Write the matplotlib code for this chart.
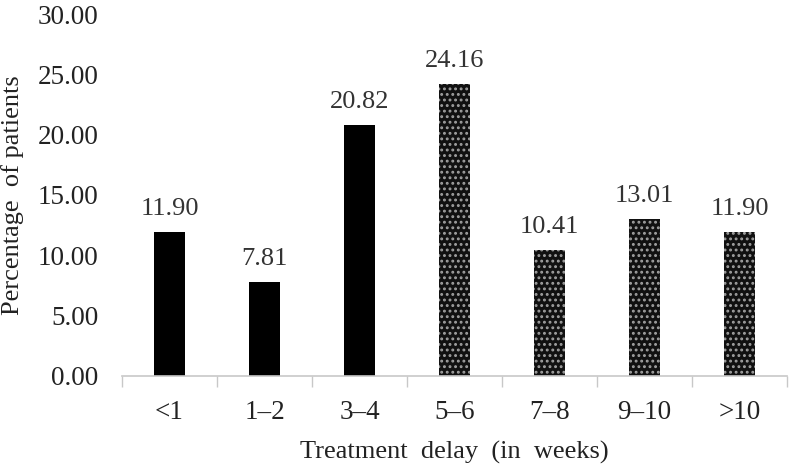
import numpy as np
import matplotlib.pyplot as plt

categories = ["<1", "1\u20132", "3\u20134", "5\u20136", "7\u20138", "9\u201310", ">10"]
values = [11.90, 7.81, 20.82, 24.16, 10.41, 13.01, 11.90]
dotted = [False, False, False, True, True, True, True]
yticks = [0, 5, 10, 15, 20, 25, 30]

plt.rcParams['font.family'] = ['Liberation Serif', 'DejaVu Serif']
plt.rcParams['hatch.linewidth'] = 1.3

fig = plt.figure(figsize=(7.89, 4.67), dpi=100)
ax = fig.add_axes([0.1546, 0.195, 0.843, 0.775])

x = np.arange(len(categories))
for xi, v, d in zip(x, values, dotted):
    if d:
        # dotted bars: dark fill, light dots
        ax.bar(xi, v, width=0.32, color='#111111', edgecolor='#a0a0a0',
               hatch='...', linewidth=0)
    else:
        ax.bar(xi, v, width=0.32, color='black', linewidth=0)
    ax.text(xi, v + 1.0, f"{v:.2f}", ha='center', va='bottom',
            fontsize=19, color='#333333')

ax.set_xlim(-0.5, len(categories) - 0.5)
ax.set_ylim(0, 30)
ax.set_yticks(yticks)
ax.set_yticklabels([f"{t:.2f}" for t in yticks], fontsize=19.5, color='#222222')
ax.set_xticks(x)
ax.set_xticklabels(categories, fontsize=19.5, color='#222222')
ax.set_xticks(np.arange(len(categories) + 1) - 0.5, minor=True)
ax.tick_params(axis='x', which='major', length=0, pad=17)
ax.tick_params(axis='x', which='minor', length=8, color='#c8c8c8', width=1)
ax.tick_params(axis='y', length=0, pad=17)

for s in ['top', 'right', 'left']:
    ax.spines[s].set_visible(False)
ax.spines['bottom'].set_color('#c8c8c8')
ax.spines['bottom'].set_linewidth(1.2)

ax.set_xlabel("Treatment  delay  (in  weeks)", fontsize=19, labelpad=12,
              color='#222222')
ax.set_ylabel("Percentage  of patients", fontsize=19, color='#222222')
ax.yaxis.set_label_coords(-0.147, 0.5)

fig.savefig("out.png", dpi=100)
